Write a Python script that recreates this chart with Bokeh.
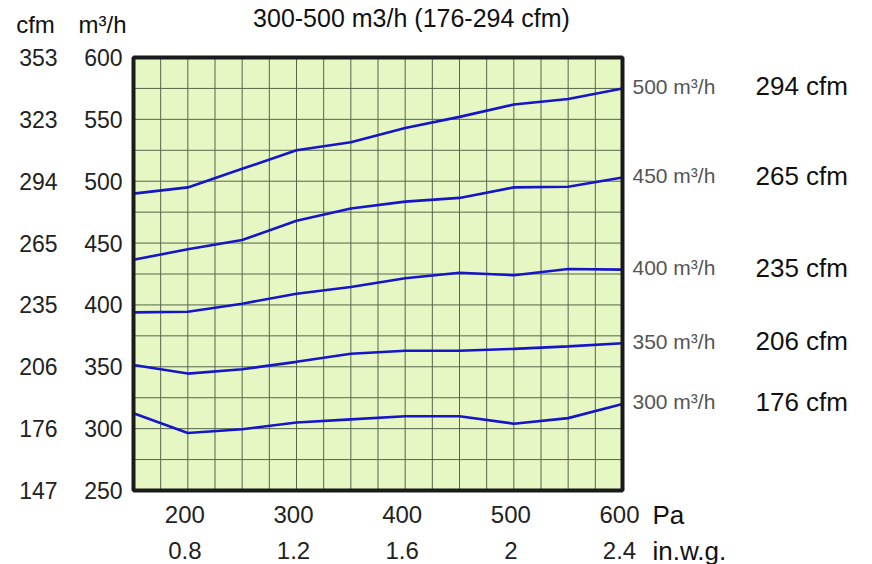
from bokeh.plotting import figure
from bokeh.models import Range1d
from bokeh.embed import file_html
from bokeh.resources import INLINE
from bokeh.core.properties import value

# ---- data ----
pressure_pa = [150, 200, 250, 300, 350, 400, 450, 500, 550, 600]
flow_300 = [312.5, 296.5, 299.5, 305, 307.5, 310, 310, 304, 308.5, 320]
flow_350 = [351.5, 344.5, 348, 354, 360.5, 363, 363, 364.5, 366.5, 369]
flow_400 = [394, 394.5, 401, 409, 414.5, 421.5, 426, 424, 429, 428.5]
flow_450 = [436.5, 445, 452.5, 468, 478, 483.5, 486.5, 495, 495.5, 503]
flow_500 = [490, 495, 510, 525, 531.5, 543, 552, 562, 566.5, 575]

series_m3h = ["300 m³/h", "350 m³/h", "400 m³/h", "450 m³/h", "500 m³/h"]
series_cfm = ["176 cfm", "206 cfm", "235 cfm", "265 cfm", "294 cfm"]

m3h_ticks = [250, 300, 350, 400, 450, 500, 550, 600]
cfm_tick_labels = ["147", "176", "206", "235", "265", "294", "323", "353"]
pa_ticks = [200, 300, 400, 500, 600]
inwg_tick_labels = ["0.8", "1.2", "1.6", "2", "2.4"]
pa_range = [150, 600]
m3h_range = [250, 600]
pa_grid_step = 25
m3h_grid_step = 25

title_text = "300-500 m3/h (176-294 cfm)"

# ---- layout (pixels) ----
W, H = 872, 564
FRAME_L, FRAME_R, FRAME_T, FRAME_B = 133, 622, 57, 490
FONT = value("Liberation Sans")

sx = (FRAME_R - FRAME_L) / (pa_range[1] - pa_range[0])
sy = (FRAME_B - FRAME_T) / (m3h_range[1] - m3h_range[0])
x0 = pa_range[0] - FRAME_L / sx
y_top = m3h_range[1] + FRAME_T / sy


def px_x(px):
    return x0 + px / sx


def px_y(py):
    return y_top - py / sy


p = figure(width=W, height=H,
           x_range=Range1d(x0, x0 + W / sx), y_range=Range1d(y_top - H / sy, y_top),
           x_axis_type=None, y_axis_type=None, min_border=0,
           output_backend="svg", toolbar_location=None)
p.outline_line_color = None
p.background_fill_color = "white"
p.border_fill_color = "white"
p.xgrid.visible = False
p.ygrid.visible = False

# chart area
p.quad(left=[pa_range[0]], right=[pa_range[1]], bottom=[m3h_range[0]], top=[m3h_range[1]],
       fill_color="#e6f7c3", line_color=None)

# grid
gx = list(range(pa_range[0], pa_range[1] + 1, pa_grid_step))
gy = list(range(m3h_range[0], m3h_range[1] + 1, m3h_grid_step))
p.segment(x0=gx, y0=[m3h_range[0]] * len(gx), x1=gx, y1=[m3h_range[1]] * len(gx),
          line_color="#56664b", line_width=1)
p.segment(x0=[pa_range[0]] * len(gy), y0=gy, x1=[pa_range[1]] * len(gy), y1=gy,
          line_color="#56664b", line_width=1)

# curves
all_series = [flow_300, flow_350, flow_400, flow_450, flow_500]
for ys in all_series:
    p.line(pressure_pa, ys, line_color="#1616c8", line_width=2.6)

# frame border
p.quad(left=[pa_range[0]], right=[pa_range[1]], bottom=[m3h_range[0]], top=[m3h_range[1]],
       fill_color=None, line_color="#1a1a1a", line_width=4)

# left tick labels
p.text(x=[pa_range[0]] * len(m3h_ticks), y=m3h_ticks, text=[str(t) for t in m3h_ticks],
       x_offset=-11, text_align="right", text_baseline="middle",
       text_font=FONT, text_font_size="23px", text_color="#222222")
p.text(x=[pa_range[0]] * len(m3h_ticks), y=m3h_ticks, text=cfm_tick_labels,
       x_offset=-76, text_align="right", text_baseline="middle",
       text_font=FONT, text_font_size="23px", text_color="#222222")

# bottom tick labels
p.text(x=pa_ticks, y=[m3h_range[0]] * len(pa_ticks), text=[str(t) for t in pa_ticks],
       x_offset=-3, y_offset=24, text_align="center", text_baseline="middle",
       text_font=FONT, text_font_size="24px", text_color="#222222")
p.text(x=pa_ticks, y=[m3h_range[0]] * len(pa_ticks), text=inwg_tick_labels,
       x_offset=-3, y_offset=60, text_align="center", text_baseline="middle",
       text_font=FONT, text_font_size="24px", text_color="#222222")

# right-hand curve labels
ends = [s[-1] for s in all_series]
p.text(x=[pressure_pa[-1]] * len(ends), y=ends, text=series_m3h,
       x_offset=10, y_offset=-2, text_align="left", text_baseline="middle",
       text_font=FONT, text_font_size="21px", text_color="#555555")
p.text(x=[pressure_pa[-1]] * len(ends), y=ends, text=series_cfm,
       x_offset=133, y_offset=-2, text_align="left", text_baseline="middle",
       text_font=FONT, text_font_size="26px", text_color="#111111")

# captions
p.text(x=[px_x(35), px_x(102)], y=[px_y(24), px_y(24)], text=["cfm", "m³/h"],
       text_align="center", text_baseline="middle",
       text_font=FONT, text_font_size="24px", text_color="#111111")
p.text(x=[px_x(652), px_x(652)], y=[px_y(514), px_y(550)], text=["Pa", "in.w.g."],
       text_align="left", text_baseline="middle",
       text_font=FONT, text_font_size="26px", text_color="#111111")
p.text(x=[px_x(411)], y=[px_y(3)], text=[title_text],
       text_align="center", text_baseline="top",
       text_font=FONT, text_font_size="25px", text_color="#111111")

open("out.html", "w").write(file_html(p, INLINE))
